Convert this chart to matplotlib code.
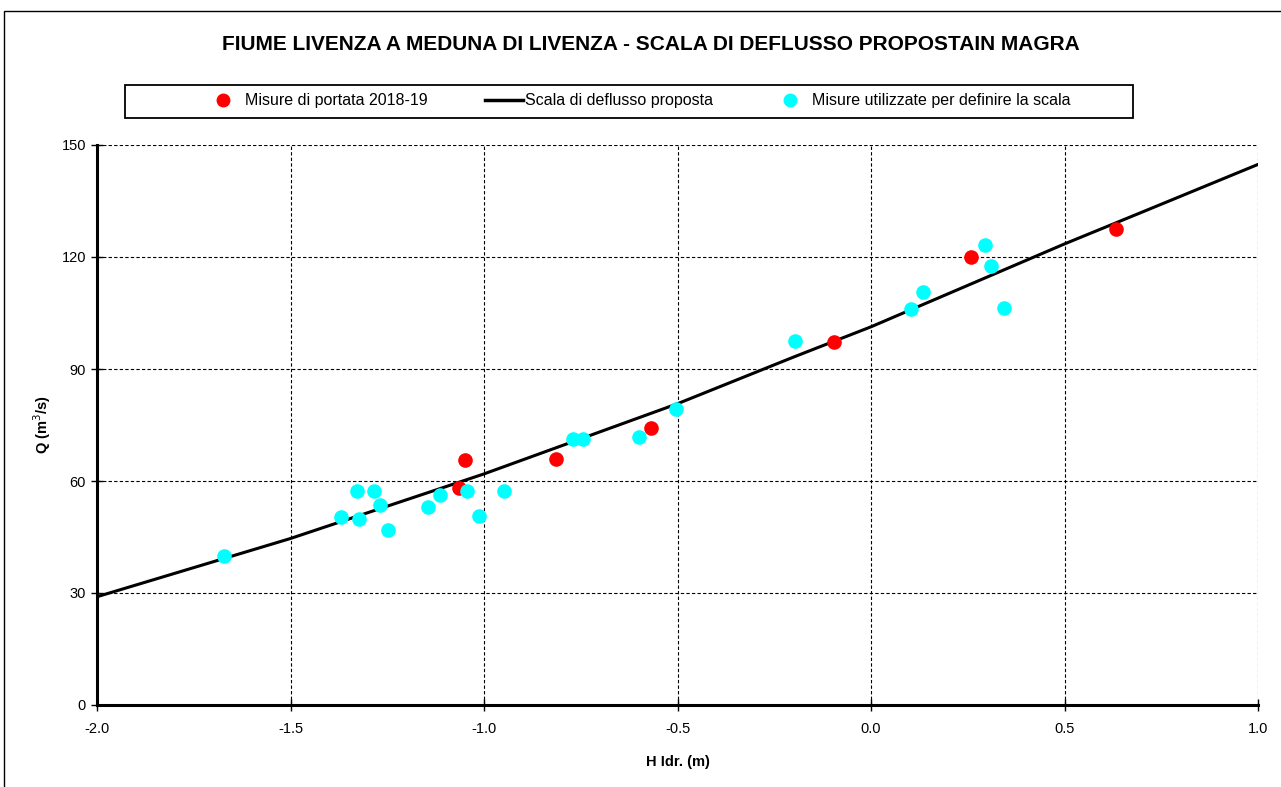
import matplotlib
matplotlib.use("Agg")
import matplotlib.pyplot as plt
from matplotlib.lines import Line2D
from matplotlib.patches import Rectangle

plt.rcParams['font.family'] = ['Liberation Sans', 'DejaVu Sans']

# Data
h_red = [-1.049, -1.065, -0.814, -0.568, -0.096, 0.258, 0.633]
q_red = [65.6, 58.1, 65.9, 74.2, 97.2, 120.0, 127.5]

h_cyan = [-1.672, -1.370, -1.328, -1.323, -1.284, -1.269, -1.248, -1.145, -1.114,
          -1.044, -1.013, -0.948, -0.770, -0.744, -0.599, -0.504, -0.196, 0.103,
          0.134, 0.295, 0.310, 0.344]
q_cyan = [39.9, 50.4, 57.3, 49.8, 57.3, 53.6, 46.9, 53.0, 56.3,
          57.3, 50.6, 57.3, 71.3, 71.3, 71.8, 79.3, 97.5, 106.1,
          110.6, 123.2, 117.6, 106.3]

h_curve = [-2.0, -1.5, -1.0, -0.5, -0.2, 0.0, 0.5, 0.7, 1.0]
q_curve = [29.0, 44.6, 61.9, 80.7, 93.2, 101.3, 123.5, 132.0, 144.8]

x_ticks = [-2.0, -1.5, -1.0, -0.5, 0.0, 0.5, 1.0]
y_ticks = [0, 30, 60, 90, 120, 150]

fig = plt.figure(figsize=(12.81, 7.87), dpi=100)
W, H = 1281, 787

# outer frame
fig.patches.append(Rectangle((4 / W, -0.01), 1.5, (787 - 11) / H + 0.01,
                             transform=fig.transFigure, fill=False,
                             edgecolor='black', linewidth=1.0))

ax = fig.add_axes([97 / W, 1 - 705 / H, (1258 - 97) / W, (705 - 145) / H])

ax.plot(h_curve, q_curve, color='black', linewidth=2.2, zorder=3,
        label='Scala di deflusso proposta')
ax.plot(h_red, q_red, 'o', color='#FF0000', markersize=9.5, zorder=4,
        label='Misure di portata 2018-19')
ax.plot(h_cyan, q_cyan, 'o', color='#00FFFF', markersize=9.5, zorder=4,
        label='Misure utilizzate per definire la scala')

ax.set_xlim(-2.0, 1.0)
ax.set_ylim(0, 150)
ax.set_xticks(x_ticks)
ax.set_xticklabels([f"{v:.1f}" for v in x_ticks])
ax.set_yticks(y_ticks)
ax.set_yticklabels([str(v) for v in y_ticks])

ax.grid(True, color='black', linestyle=(0, (3, 2)), linewidth=0.8)
ax.set_axisbelow(True)
for s in ['top', 'right']:
    ax.spines[s].set_visible(False)
for s in ['left', 'bottom']:
    ax.spines[s].set_linewidth(2.2)
    ax.spines[s].set_zorder(2.5)
ax.tick_params(axis='both', direction='inout', length=8, width=1,
               labelsize=10.5, pad=4)
ax.tick_params(axis='x', pad=8)

ax.set_xlabel('H Idr. (m)', fontsize=10.5, fontweight='bold', labelpad=14)
ax.set_ylabel('Q (m$^{3}$/s)', fontsize=10.5, fontweight='bold', labelpad=6)

fig.text(651 / W, 1 - 45 / H,
         'FIUME LIVENZA A MEDUNA DI LIVENZA - SCALA DI DEFLUSSO PROPOSTAIN MAGRA',
         ha='center', va='center', fontsize=15, fontweight='bold')

# legend box
fig.patches.append(Rectangle((125 / W, 1 - 118 / H), (1133 - 125) / W, 33 / H,
                             transform=fig.transFigure, fill=False,
                             edgecolor='black', linewidth=1.3))
handles = [
    Line2D([], [], marker='o', color='#FF0000', linestyle='none', markersize=9),
    Line2D([], [], color='black', linewidth=2.5),
    Line2D([], [], marker='o', color='#00FFFF', linestyle='none', markersize=9),
]
labels = ['Misure di portata 2018-19', 'Scala di deflusso proposta',
          'Misure utilizzate per definire la scala']
leg = fig.legend(handles, labels, ncol=3, loc='center',
                 bbox_to_anchor=(637 / W, 1 - 101 / H),
                 frameon=False, fontsize=11.5,
                 handlelength=2.4, handletextpad=0.15, borderaxespad=0,
                 columnspacing=3.6)

fig.savefig('out.png', dpi=100)
